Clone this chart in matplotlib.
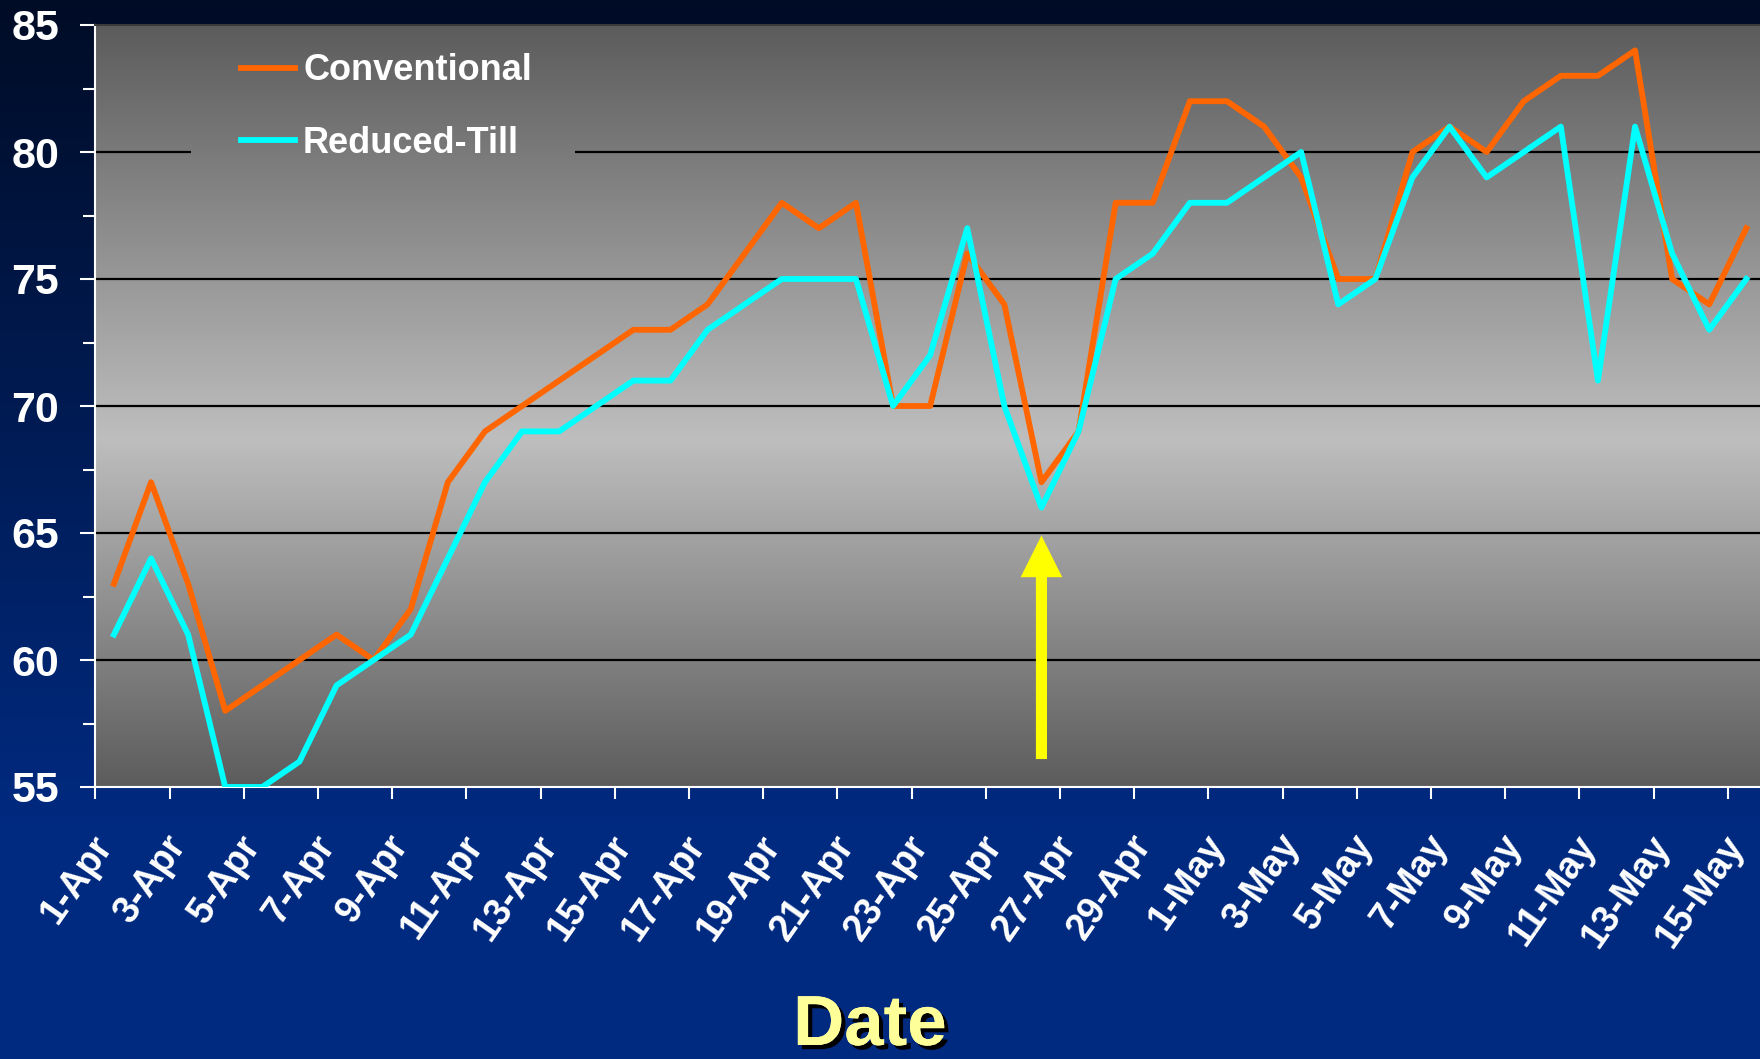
import numpy as np
import matplotlib
matplotlib.use("Agg")
import matplotlib.pyplot as plt
import matplotlib.patheffects as pe
from matplotlib.patches import Rectangle

# ---------------- data ----------------
dates = [f"{d}-Apr" for d in range(1, 31)] + [f"{d}-May" for d in range(1, 16)]
conventional = [63, 67, 63, 58, 59, 60, 61, 60, 62, 67,
                69, 70, 71, 72, 73, 73, 74, 76, 78, 77,
                78, 70, 70, 76, 74, 67, 69, 78, 78, 82,
                82, 81, 79, 75, 75, 80, 81, 80, 82, 83,
                83, 84, 75, 74, 77]
reduced_till = [61, 64, 61, 55, 55, 56, 59, 60, 61, 64,
                67, 69, 69, 70, 71, 71, 73, 74, 75, 75,
                75, 70, 72, 77, 70, 66, 69, 75, 76, 78,
                78, 79, 80, 74, 75, 79, 81, 79, 80, 81,
                71, 81, 76, 73, 75]
series_names = ["Conventional", "Reduced-Till"]
y_ticks = [55, 60, 65, 70, 75, 80, 85]
arrow_day = "26-Apr"
arrow_tail, arrow_tip = 56.1, 64.9
x_title = "Date"

# ---------------- figure ----------------
W, H = 1760, 1059
plt.rcParams['font.family'] = ['Liberation Sans', 'DejaVu Sans']
plt.rcParams['font.weight'] = 'bold'
fig = plt.figure(figsize=(W / 100, H / 100), dpi=100)

# figure background gradient (dark navy -> blue)
bg = fig.add_axes([0, 0, 1, 1], zorder=-10)
bg.axis('off')
t = np.linspace(0, 1, 600)
top_c = np.array([0, 12, 38]) / 255
bot_c = np.array([0, 42, 128]) / 255
f = np.clip(t / 0.78, 0, 1)
img = top_c[None, :] * (1 - f[:, None]) + bot_c[None, :] * f[:, None]
bg.imshow(img[:, None, :], aspect='auto', extent=[0, 1, 0, 1], origin='upper')
bg.set_xlim(0, 1)
bg.set_ylim(0, 1)

# plot area
px_left, px_top, px_bottom = 95.4, 25, 787
cat_w = 37.1
n = len(dates)
ax = fig.add_axes([px_left / W, (H - px_bottom) / H, n * cat_w / W, (px_bottom - px_top) / H])
ax.set_facecolor('none')

v = np.linspace(1, 0, 600)
peak = 0.457
lo, hi = 92, 190
g = np.where(v >= peak, hi - (v - peak) / (1 - peak) * (hi - lo), hi - (peak - v) / peak * (hi - lo)) / 255
grad = np.repeat(g[:, None, None], 3, axis=2)
ax.imshow(grad, extent=[0, 1, 0, 1], transform=ax.transAxes, aspect='auto', zorder=0)

x = np.arange(n)
for yv in y_ticks[1:-1]:
    ax.axhline(yv, color='black', lw=1.6, zorder=1)

# legend background patch (hides grid line behind legend)
lx0 = (191 - px_left) / (n * cat_w)
lx1 = (574 - px_left) / (n * cat_w)
ly0 = 1 - (168 - px_top) / (px_bottom - px_top)
clip_rect = Rectangle((lx0, ly0), lx1 - lx0, 1 - ly0, transform=ax.transAxes, facecolor='none', edgecolor='none')
ax.add_patch(clip_rect)
im2 = ax.imshow(grad, extent=[0, 1, 0, 1], transform=ax.transAxes, aspect='auto', zorder=1.5)
im2.set_clip_path(clip_rect)

h1, = ax.plot(x, conventional, color='#ff6600', lw=4.2, zorder=3, label=series_names[0])
h2, = ax.plot(x, reduced_till, color='#00ffff', lw=4.2, zorder=3, label=series_names[1])

ax.set_xlim(-0.5, n - 0.5)
ax.set_ylim(y_ticks[0], y_ticks[-1])

# arrow
ai = dates.index(arrow_day)
ax.annotate('', xy=(ai, arrow_tip), xytext=(ai, arrow_tail),
            arrowprops=dict(arrowstyle='simple,head_length=30,head_width=30,tail_width=8',
                            mutation_scale=1, fc='#ffff00', ec='none', lw=0,
                            shrinkA=0, shrinkB=0), zorder=4)

# ticks
ax.set_xticks(np.arange(-0.5, n, 2))
ax.set_xticklabels([])
ax.set_xticks(x[::2] + 0.15, [dates[i] for i in x[::2]], minor=True)
ax.tick_params(axis='x', which='major', direction='out', length=8.6, width=1.5, color='white')
ax.tick_params(axis='x', which='minor', length=0, pad=30, labelsize=27, labelcolor='white')
for lbl in ax.get_xticklabels(minor=True):
    lbl.set_rotation(55)
    lbl.set_ha('right')
    lbl.set_va('top')
    lbl.set_rotation_mode('default')
    lbl.set_fontweight('bold')

ax.set_yticks(y_ticks)
ax.set_yticks(np.array(y_ticks[:-1]) + 2.5, minor=True)
ax.tick_params(axis='y', which='major', direction='out', length=11, width=1.5, color='white',
               pad=15, labelsize=31, labelcolor='white')
ax.tick_params(axis='y', which='minor', direction='out', length=8.6, width=1.5, color='white')
for lbl in ax.get_yticklabels():
    lbl.set_fontweight('bold')

for s in ['left', 'bottom']:
    ax.spines[s].set_color('white')
    ax.spines[s].set_linewidth(1.5)
ax.spines['top'].set_color('#3a3a3a')
ax.spines['top'].set_linewidth(1.5)
ax.spines['right'].set_visible(False)

leg = ax.legend(handles=[h1, h2], loc='upper left', bbox_to_anchor=(241 / W, 1 - 53.5 / H),
                bbox_transform=fig.transFigure, frameon=False,
                prop=dict(family='Liberation Sans', weight='bold', size=26), labelcolor='white',
                handlelength=1.5, handletextpad=0.22, labelspacing=1.04, borderpad=0, borderaxespad=0)
leg.set_zorder(5)

fig.text(870 / W, 14 / H, x_title, ha='center', va='baseline', fontsize=51, fontweight='bold',
         color='#ffff99',
         path_effects=[pe.withSimplePatchShadow(offset=(3, -3), shadow_rgbFace='black', alpha=1.0),
                       pe.Normal()])

fig.savefig('out.png', dpi=100)
